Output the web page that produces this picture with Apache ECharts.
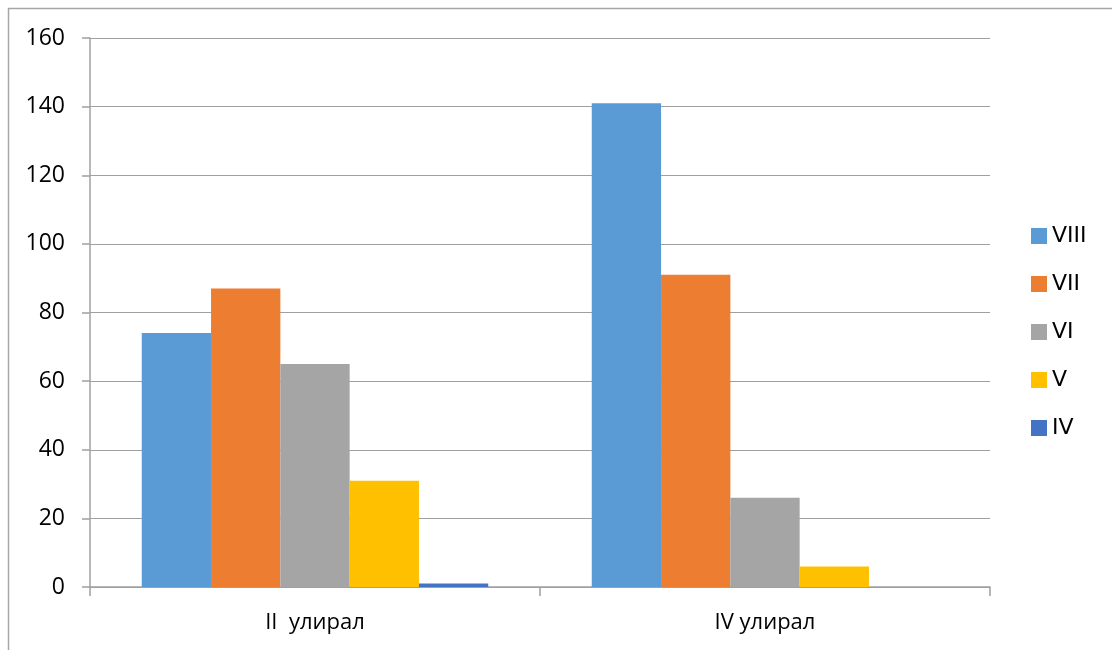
<!DOCTYPE html>
<html><head><meta charset="utf-8">
<script src="https://cdn.jsdelivr.net/npm/echarts@6/dist/echarts.min.js"></script>
<style>html,body{margin:0;padding:0;background:#fff}#c{width:1112px;height:650px}</style>
</head><body><div id="c"></div>
<script>
const categories = ['II  улирал', 'IV улирал'];
const seriesNames = ['VIII', 'VII', 'VI', 'V', 'IV'];
const valuesVIII = [74, 141];
const valuesVII = [87, 91];
const valuesVI = [65, 26];
const valuesV = [31, 6];
const valuesIV = [1, 0];
const yTicks = [0, 20, 40, 60, 80, 100, 120, 140, 160];

const seriesData = [valuesVIII, valuesVII, valuesVI, valuesV, valuesIV];
const colors = ['#5B9BD5', '#ED7D31', '#A5A5A5', '#FFC000', '#4472C4'];
const font = '"Open Sans", "Noto Sans", sans-serif';
const chart = echarts.init(document.getElementById('c'));
chart.setOption({
  animation: false,
  color: colors,
  graphic: [{type: 'rect', shape: {x: 8.5, y: 8.5, width: 1200, height: 700}, style: {fill: 'none', stroke: '#a6a6a6', lineWidth: 1.5}}],
  grid: {left: 90, right: 122, top: 38, bottom: 63},
  legend: {
    orient: 'vertical', left: 1026, top: 220,
    itemWidth: 16, itemHeight: 16, itemGap: 26,
    icon: 'rect',
    textStyle: {fontFamily: '"DejaVu Sans", sans-serif', fontSize: 22, lineHeight: 16, color: '#000', padding: [0, 0, 0, 0]},
    data: seriesNames
  },
  xAxis: {
    type: 'category', data: categories,
    axisLine: {lineStyle: {color: '#a0a0a0', width: 1.5}},
    axisTick: {show: true, length: 9, lineStyle: {color: '#a0a0a0', width: 1.5}},
    axisLabel: {fontFamily: font, fontSize: 22, color: '#000', margin: 25}
  },
  yAxis: {
    type: 'value', min: yTicks[0], max: yTicks[yTicks.length - 1], interval: yTicks[1] - yTicks[0],
    axisLine: {show: true, lineStyle: {color: '#a0a0a0', width: 1.5}},
    axisTick: {show: true, length: 8, lineStyle: {color: '#a0a0a0', width: 1.5}},
    splitLine: {lineStyle: {color: '#a0a0a0', width: 1}},
    axisLabel: {fontFamily: font, fontSize: 23, color: '#000', margin: 25}
  },
  series: seriesNames.map((n, i) => ({
    name: n, type: 'bar', data: seriesData[i],
    barGap: '0%', barCategoryGap: '23%'
  }))
});
</script></body></html>
